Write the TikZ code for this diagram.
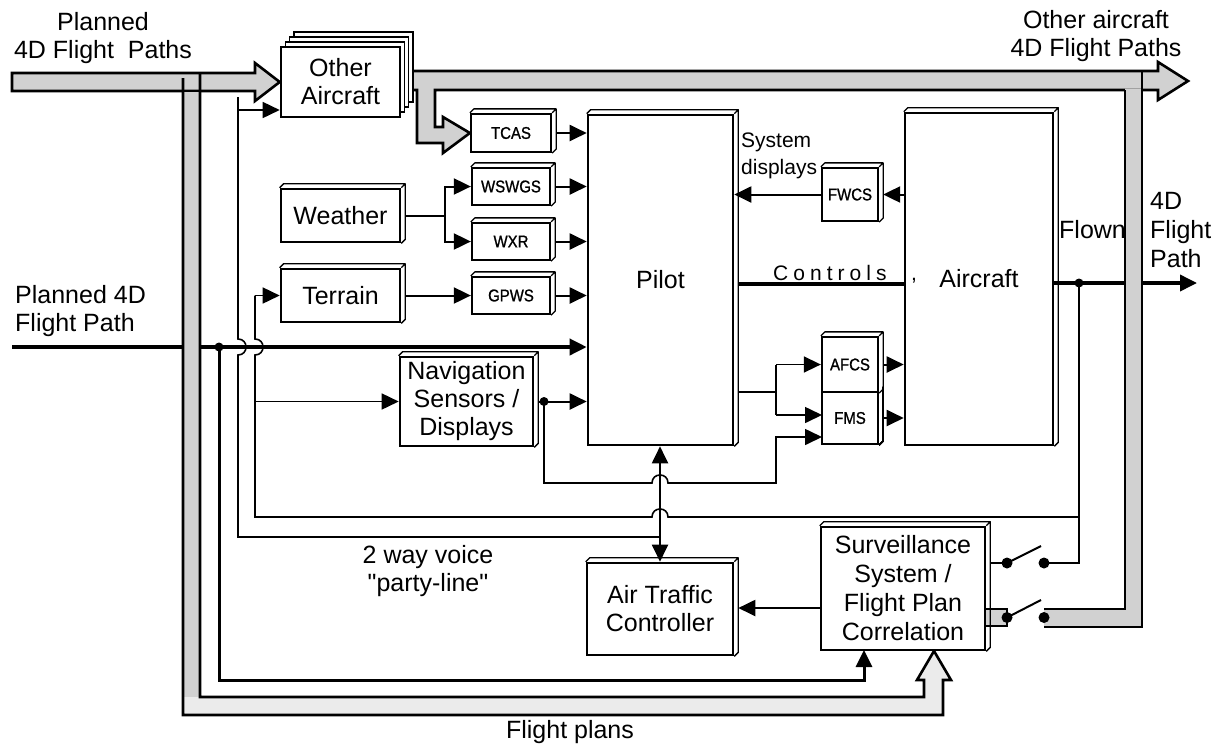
\documentclass[tikz,border=0pt]{standalone}
\usepackage{fontspec}
\setmainfont{Liberation Sans}
\newfontfamily\spacedfont[LetterSpace=24]{Liberation Sans}
\newfontfamily\narrowfont[FakeStretch=0.88,FakeBold=1]{Liberation Sans}
\newfontfamily\quotefont[Ligatures=TeXOff]{Liberation Sans}
\usetikzlibrary{arrows.meta,calc}
\pgfdeclarelayer{back}
\pgfsetlayers{back,main}
\newcommand\tdface[2][4]{%
  \draw[line width=1.3pt,line join=round] (#2.north west) -- ++(#1,-#1) -- ($(#2.north east)+(#1,-#1)$) -- ($(#2.south east)+(#1,-#1)$) -- (#2.south east) (#2.north east) -- ++(#1,-#1);}
% box: name, x1, y1, x2, y2, style, text
\newcommand\bx[7]{\node[#6,minimum width={#4-#2},minimum height={#5-#3}] (#1) at ({(#2+#4)/2},{(#3+#5)/2}) {#7};}
\begin{document}
\begin{tikzpicture}[x=1pt,y=-1pt,
  big/.style={font=\fontsize{25}{28}\selectfont},
  sml/.style={font=\narrowfont\fontsize{17}{20}\selectfont},
  blk/.style={draw,line width=2.6pt,fill=white,inner sep=0pt,align=center,big},
  sblk/.style={blk,sml,line width=2.3pt},
  thinl/.style={line width=1.6pt},
  medl/.style={line width=2pt},
  thickl/.style={line width=3.6pt},
  arr/.style={-{Triangle[length=17pt,width=16pt]}},
  darr/.style={{Triangle[length=17pt,width=16pt]}-{Triangle[length=17pt,width=16pt]}},
  bandfill/.style={fill=black!18},
  lightband/.style={fill=black!8},
  bandedge/.style={line width=2.6pt,line join=miter},
  dot/.style={circle,fill=black,inner sep=0pt,minimum size=9pt},
  sdot/.style={circle,fill=black,inner sep=0pt,minimum size=11pt},
  lbl/.style={big,inner sep=0pt},
]
\useasboundingbox (0,0) rectangle (1220,748);

% ---------- boxes ----------
\foreach \k in {3,2,1}
  \draw[line width=1.5pt,fill=white] ({281+4.3*\k},{47-5*\k}) rectangle ({400+4.3*\k},{117-5*\k});
\bx{oa}{281}{47}{400}{117}{blk}{Other\\Aircraft}
\bx{tcas}{471}{114}{551}{152}{sblk}{TCAS}
\bx{wswgs}{472}{168}{550}{205}{sblk}{WSWGS}
\bx{wxr}{472}{223}{550}{260}{sblk}{WXR}
\bx{gpws}{472}{277}{550}{314}{sblk}{GPWS}
\bx{weather}{281}{189}{400}{242}{blk}{Weather}
\bx{terrain}{281}{269}{400}{322}{blk}{Terrain}
\bx{pilot}{588}{115}{733}{445}{blk}{Pilot}
\bx{aircraft}{905}{113}{1053}{445}{blk}{Aircraft}
\bx{fwcs}{822}{168}{878}{221}{sblk}{FWCS}
\bx{afcs}{822}{337}{878}{392}{sblk}{AFCS}
\bx{fms}{822}{392}{878}{444}{sblk}{FMS}
\bx{nav}{400}{357}{533}{446}{blk}{Navigation\\Sensors /\\Displays}
\bx{atc}{587}{563}{733}{655}{blk}{Air Traffic\\Controller}
\bx{surv}{821}{527}{985}{650}{blk,font=\fontsize{25}{29}\selectfont}{Surveillance\\System /\\Flight Plan\\Correlation}

\foreach \n in {tcas,wswgs,wxr,gpws,weather,terrain,pilot,aircraft,fwcs,afcs,nav,atc,surv} \tdface{\n}
\draw[line width=1.3pt] ($(fms.north east)+(4,-4)$) -- ($(fms.south east)+(4,-4)$) -- (fms.south east);

% ---------- coordinates ----------
\coordinate (pin) at (12,347);
\coordinate (dotP) at (219,347);
\coordinate (dotF) at (1079,283);
\coordinate (fend) at (1197,283);
\coordinate (dotN) at (544,401.5);
\coordinate (wb) at (445,215.5);
\coordinate (v1) at (238,97);
\coordinate (v1a) at (238,110);
\coordinate (v1b) at (238,537);
\coordinate (t0) at (255,295.5);
\coordinate (t1) at (255,401.5);
\coordinate (pa) at (776,392);
\coordinate (cc) at (800,284);
\coordinate (sa) at (800,608);
\coordinate (s1a) at (1007,563);
\coordinate (s1b) at (1044,563);
\coordinate (s2a) at (1007,617.5);
\coordinate (s2b) at (1044,617.5);

% ---------- background: bands and thick paths ----------
\begin{pgfonlayer}{back}
\draw[thickl,arr] (pin) -- (dotP -| pilot.west);
\draw[thickl,arr] (aircraft.east |- dotF) -- (fend);
% input band
\filldraw[bandfill,bandedge] (12,73) -- (255,73) -- (255,63) -- (oa.west) -- (255,101) -- (255,91) -- (12,91) -- cycle;
% left + bottom flight plan band
\fill[lightband] (183,92.3) -- (200,92.3) -- (200,697) -- (924,697) -- (924,680) -- (917,680) -- (934,651) -- (951,680) -- (943,680) -- (943,715) -- (183,715) -- cycle;
\fill[bandfill] (183,92.3) rectangle (200,697);
\draw[bandedge] (200,73) -- (200,697) -- (924,697) -- (924,680) -- (917,680) -- (934,651) -- (951,680) -- (943,680) -- (943,715) -- (183,715) -- (183,78);
% output band + branch to TCAS
\filldraw[bandfill,bandedge] (400,71) -- (1158,71) -- (1158,62) -- (1188,81) -- (1158,100) -- (1158,90) -- (435,90) -- (435,127) -- (443,127) -- (443,117) -- (tcas.west) -- (443,153) -- (443,143) -- (417,143) -- (417,90) -- (400,90) -- cycle;
% right band down to surveillance switch
\fill[bandfill] (1125,88.5) -- (1142,88.5) -- (1142,627) -- (1044,627) -- (1044,609) -- (1125,609) -- cycle;
\draw[bandedge] (1142,71) -- (1142,627) -- (1044,627);
\draw[bandedge] (1125,90) -- (1125,609) -- (1044,609);
\filldraw[bandfill,bandedge] (985,609) rectangle (1007,626);
\end{pgfonlayer}

% ---------- connectors ----------
\foreach \n in {tcas,wswgs,wxr,gpws} \draw[medl,arr] ($(\n.east)+(4,0)$) -- (\n.east -| pilot.west);
\draw[medl] ($(weather.east)+(4,0)$) -- (wb);
\draw[medl,arr] (wb) |- (wswgs.west);
\draw[medl,arr] (wb) |- (wxr.west);
\draw[medl,arr] ($(terrain.east)+(4,0)$) -- (gpws.west);

% other aircraft feed / party line
\draw[thinl,arr] (v1a) -- (v1a -| oa.west);
\draw[thinl] (v1) -- (238,339) .. controls (248.7,339) and (248.7,355) .. (238,355) -- (v1b) -- (atc.north |- v1b);

% flown path feedback to terrain / nav
\draw[thinl,arr] (t0) -- (terrain.west);
\draw[thinl,arr] (t1) -- (nav.west);
\draw[thinl] (t0) -- (255,339) .. controls (265.7,339) and (265.7,355) .. (255,355) -- (255,517) -- (652,517) .. controls (652,506.3) and (668,506.3) .. (668,517) -- (1079,517);

% nav outputs
\draw[medl,arr] ($(nav.east)+(4,0)$) -- (nav.east -| pilot.west);
\draw[thinl,arr] (dotN) -- (544,483) -- (652,483) .. controls (652,472.3) and (668,472.3) .. (668,483) -- (776,483) -- (776,437) -- (822,437);

% pilot to AFCS / FMS
\draw[thinl] ($(pilot.east |- pa)+(4,0)$) -- (pa);
\draw[thinl] (776,364.5) -- (776,415);
\draw[thinl,arr] (776,364.5) -- (afcs.west);
\draw[thinl,arr] (776,415) -- (822,415);
\draw[medl,arr] ($(afcs.east)+(4,0)$) -- (afcs.east -| aircraft.west);
\draw[medl,arr] ($(fms.east)+(4,0)$) -- (fms.east -| aircraft.west);

% system displays
\draw[medl,arr] (fwcs.east -| aircraft.west) -- ($(fwcs.east)+(4,0)$);
\draw[medl,arr] (fwcs.west) -- (fwcs.west -| pilot.east);

% controls
\draw[thickl] ($(pilot.east |- cc)+(4,0)$) -- (aircraft.west |- cc);

% pilot <-> ATC, surveillance -> ATC
\draw[medl,darr] (atc.north |- pilot.south) -- (atc.north);
\draw[medl,arr] (surv.west |- sa) -- ($(atc.east |- sa)+(4,0)$);

% planned path to surveillance
\draw[line width=3pt,arr] (dotP) -- (219,680) -- (864,680) -- (864,650);

% flown path to surveillance via switch
\draw[thinl] (dotF) -- (1079,563) -- (s1b);
\draw[medl] ($(surv.east |- s1a)+(4,0)$) -- (s1a);
\draw[medl] (s1a) -- (1041,546);
\draw[medl] (s2a) -- (1041,600);

% dots
\node[dot] (dp) at (dotP) {};
\node[dot] (df) at (dotF) {};
\node[dot] (dn) at (dotN) {};
\node[sdot] (sw1a) at (s1a) {};
\node[sdot] (sw1b) at (s1b) {};
\node[sdot] (sw2a) at (s2a) {};
\node[sdot] (sw2b) at (s2b) {};

% ---------- labels ----------
\node[lbl,align=center] (tl) at (103,38) {Planned\\4D Flight\ \ Paths};
\node[lbl,align=center] (tr) at (1096,36) {Other aircraft\\4D Flight Paths};
\node[lbl,align=left,anchor=west] (pl) at (15,311) {Planned 4D\\Flight Path};
\node[lbl,align=left,anchor=west,font=\fontsize{25}{29}\selectfont] (fp) at (1150,230) {4D\\Flight\\Path};
\node[lbl,anchor=base west] (fl) at (1059,238) {Flown};
\node[inner sep=0pt,align=left,anchor=west,font=\fontsize{21}{27}\selectfont] (sd) at (741,156) {System\\displays};
\node[inner sep=0pt,anchor=base west,font=\spacedfont\fontsize{21}{24}\selectfont] (ctl) at (773,280) {Controls};
\node[inner sep=0pt,anchor=base,font=\fontsize{21}{24}\selectfont] (cm) at (914,280) {,};
\node[lbl,align=center,font=\quotefont\fontsize{25}{28}\selectfont] (voice) at (428,571) {2 way voice\\"party-line"};
\node[lbl,anchor=base] (fpl) at (570,738) {Flight plans};
\end{tikzpicture}
\end{document}
